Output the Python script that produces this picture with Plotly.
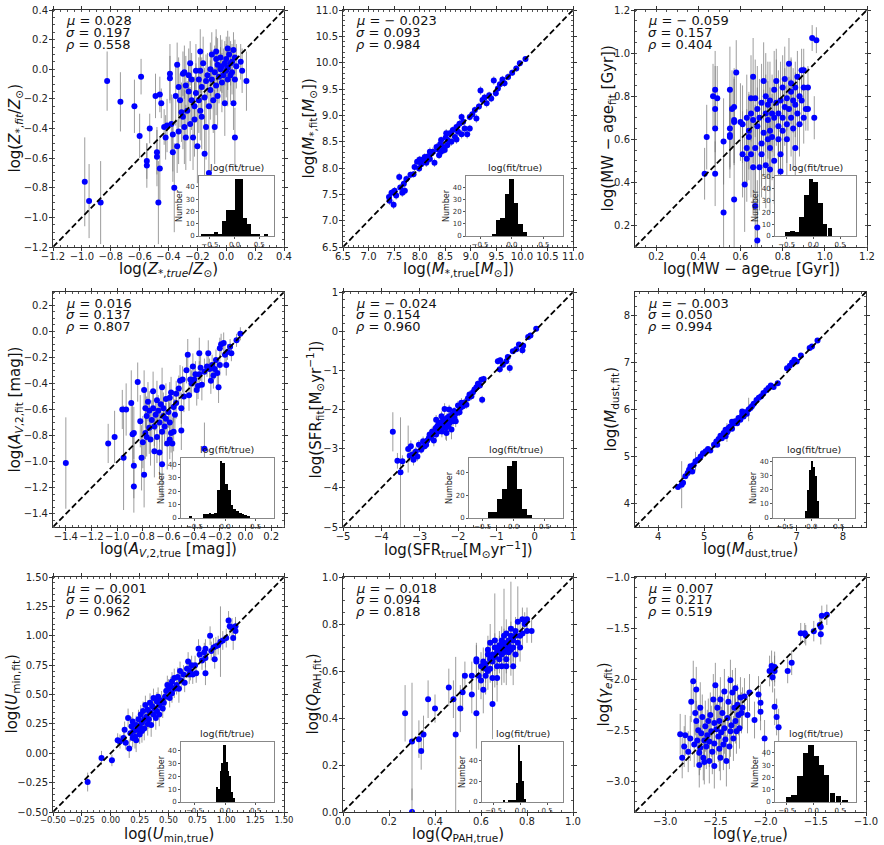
import plotly.graph_objects as go

W, H = 884, 845
FONT = "DejaVu Sans"

# (true, fit, error) triples
ZMET_PTS = [
    (-0.825, -0.08, 0.20), (-0.733, -0.22, 0.20), (-0.636, -0.25, 0.18), (-0.60, -0.45, 0.15), (-0.59, -0.05, 0.12),
    (-0.98, -0.76, 0.30), (-0.95, -0.89, 0.25), (-0.87, -0.90, 0.28), (-0.55, -0.65, 0.15), (-0.55, -0.62, 0.12),
    (-0.53, -0.40, 0.10), (-0.49, -0.18, 0.15), (-0.46, -0.17, 0.12), (-0.48, -0.59, 0.20), (-0.48, -0.56, 0.15),
    (-0.46, -0.67, 0.22), (-0.47, -0.90, 0.28), (-0.45, -0.23, 0.10), (-0.43, -0.39, 0.12), (-0.42, -0.46, 0.15),
    (-0.41, -0.38, 0.18), (-0.39, -0.06, 0.15), (-0.39, -0.03, 0.20), (-0.38, -0.37, 0.20), (-0.37, -0.44, 0.25),
    (-0.37, -0.56, 0.20), (-0.36, -0.80, 0.30), (-0.35, -0.18, 0.20), (-0.34, 0.03, 0.15), (-0.34, -0.52, 0.18),
    (-0.33, -0.12, 0.20), (-0.33, -0.42, 0.22), (-0.32, -0.21, 0.18), (-0.31, -0.29, 0.20), (-0.30, -0.03, 0.15),
    (-0.30, -0.32, 0.22), (-0.29, -0.39, 0.25), (-0.29, -0.02, 0.18), (-0.28, -0.11, 0.20), (-0.28, -0.46, 0.22),
    (-0.27, -0.28, 0.20), (-0.26, -0.04, 0.18), (-0.26, -0.15, 0.20), (-0.25, 0.04, 0.15), (-0.25, -0.37, 0.25),
    (-0.24, -0.21, 0.20), (-0.24, -0.07, 0.18), (-0.23, -0.46, 0.22), (-0.22, -0.25, 0.20), (-0.22, -0.34, 0.25),
    (-0.21, -0.01, 0.18), (-0.21, -0.16, 0.20), (-0.20, -0.52, 0.25), (-0.19, -0.07, 0.15), (-0.19, -0.21, 0.22),
    (-0.18, -0.28, 0.20), (-0.18, -0.01, 0.15), (-0.17, -0.12, 0.20), (-0.17, -0.32, 0.22), (-0.16, 0.04, 0.18),
    (-0.15, -0.19, 0.20), (-0.15, -0.57, 0.25), (-0.14, -0.08, 0.18), (-0.14, -0.39, 0.22), (-0.13, -0.04, 0.15),
    (-0.12, -0.25, 0.20), (-0.18, 0.12, 0.15), (-0.12, -0.70, 0.25), (-0.11, 0.00, 0.18), (-0.11, -0.14, 0.20),
    (-0.10, 0.10, 0.15), (-0.10, -0.07, 0.20), (-0.09, -0.21, 0.22), (-0.08, -0.02, 0.18), (-0.08, -0.39, 0.25),
    (-0.07, 0.07, 0.15), (-0.07, -0.11, 0.20), (-0.06, 0.03, 0.18), (-0.06, -0.18, 0.20), (-0.05, -0.05, 0.18),
    (-0.04, 0.00, 0.15), (-0.04, 0.08, 0.15), (-0.03, -0.09, 0.20), (-0.03, 0.02, 0.18), (-0.02, -0.04, 0.18),
    (-0.01, 0.04, 0.15), (-0.01, -0.23, 0.22), (0.00, -0.01, 0.18), (0.00, 0.07, 0.15), (0.01, -0.07, 0.18),
    (0.01, 0.01, 0.15), (0.02, 0.10, 0.12), (0.03, -0.04, 0.18), (0.03, 0.04, 0.15), (0.04, 0.05, 0.12),
    (0.04, -0.02, 0.15), (0.05, 0.13, 0.12), (0.06, 0.08, 0.12), (0.06, -0.07, 0.15), (0.06, -0.46, 0.20),
    (0.10, 0.05, 0.12), (0.07, 0.02, 0.15), (0.14, -0.08, 0.20), (0.11, -0.01, 0.15), (0.05, -0.23, 0.18),
    (0.01, 0.14, 0.12), (-0.07, 0.12, 0.15),
]
MSTAR_PTS = [
    (7.40, 7.45, 0.08), (7.41, 7.38, 0.08), (7.45, 7.53, 0.07), (7.49, 7.30, 0.08), (7.51, 7.57, 0.07),
    (7.54, 7.48, 0.08), (7.60, 7.83, 0.08), (7.62, 7.63, 0.07), (7.66, 7.53, 0.08), (7.69, 7.70, 0.07),
    (7.71, 7.57, 0.08), (7.74, 7.79, 0.07), (7.82, 7.87, 0.06), (7.88, 7.88, 0.06), (7.95, 8.12, 0.08),
    (7.99, 7.99, 0.07), (8.03, 8.07, 0.07), (8.07, 8.16, 0.08), (8.10, 8.21, 0.07), (8.13, 8.10, 0.08),
    (8.16, 8.22, 0.07), (8.20, 8.17, 0.08), (8.23, 8.28, 0.07), (8.26, 8.31, 0.08), (8.29, 8.10, 0.08),
    (8.33, 8.40, 0.07), (8.36, 8.35, 0.08), (8.38, 8.24, 0.07), (8.40, 8.45, 0.08), (8.42, 8.53, 0.07),
    (8.46, 8.40, 0.08), (8.49, 8.34, 0.07), (8.51, 8.58, 0.08), (8.54, 8.43, 0.07), (8.55, 8.53, 0.08),
    (8.59, 8.66, 0.07), (8.62, 8.50, 0.08), (8.65, 8.72, 0.07), (8.69, 8.59, 0.08), (8.72, 8.78, 0.07),
    (8.75, 8.69, 0.08), (8.78, 8.84, 0.07), (8.82, 8.64, 0.08), (8.85, 8.88, 0.07), (8.88, 8.75, 0.08),
    (8.93, 8.64, 0.08), (8.98, 8.97, 0.07), (9.03, 9.02, 0.06), (9.08, 9.10, 0.07), (9.11, 8.94, 0.08),
    (9.16, 9.17, 0.07), (9.19, 9.47, 0.08), (9.23, 9.29, 0.07), (9.27, 9.34, 0.07), (9.31, 9.23, 0.08),
    (9.36, 9.38, 0.07), (9.40, 9.32, 0.07), (9.45, 9.66, 0.08), (9.49, 9.42, 0.07), (9.53, 9.51, 0.07),
    (9.57, 9.59, 0.08), (9.62, 9.68, 0.07), (9.66, 9.61, 0.07), (9.73, 9.73, 0.07), (9.81, 9.81, 0.06),
    (9.89, 9.89, 0.06), (9.96, 9.99, 0.06), (10.07, 10.07, 0.05), (8.72, 8.54, 0.08), (8.42, 8.31, 0.07),
    (8.20, 8.31, 0.08), (8.00, 8.16, 0.07), (7.90, 8.02, 0.08), (8.98, 8.75, 0.07), (8.52, 8.66, 0.08),
    (8.82, 8.97, 0.07),
]
AGE_PTS = [
    (0.44, 0.61, 0.15), (0.43, 0.44, 0.12), (0.47, 0.80, 0.15), (0.48, 0.83, 0.18), (0.48, 0.74, 0.20),
    (0.49, 0.79, 0.15), (0.48, 0.65, 0.18), (0.48, 0.44, 0.15), (0.52, 0.59, 0.20), (0.52, 0.26, 0.25),
    (0.55, 0.83, 0.20), (0.55, 0.65, 0.18), (0.55, 0.62, 0.20), (0.55, 0.61, 0.15), (0.56, 0.74, 0.18),
    (0.57, 0.69, 0.20), (0.57, 0.75, 0.18), (0.58, 0.91, 0.15), (0.57, 0.68, 0.20), (0.57, 0.32, 0.25),
    (0.60, 0.68, 0.18), (0.61, 0.53, 0.20), (0.61, 0.67, 0.18), (0.62, 0.39, 0.22), (0.63, 0.51, 0.20),
    (0.63, 0.56, 0.18), (0.63, 0.70, 0.20), (0.64, 0.61, 0.20), (0.64, 0.64, 0.18), (0.65, 0.79, 0.20),
    (0.65, 0.72, 0.18), (0.65, 0.53, 0.20), (0.66, 0.89, 0.18), (0.66, 0.69, 0.20), (0.66, 0.47, 0.22),
    (0.67, 0.79, 0.18), (0.67, 0.56, 0.20), (0.67, 0.29, 0.25), (0.68, 0.19, 0.22), (0.68, 0.13, 0.20),
    (0.68, 0.66, 0.18), (0.68, 0.74, 0.20), (0.69, 0.47, 0.20), (0.69, 0.70, 0.18), (0.70, 0.58, 0.20),
    (0.70, 0.77, 0.18), (0.70, 0.53, 0.20), (0.71, 0.87, 0.18), (0.71, 0.63, 0.20), (0.72, 0.72, 0.18),
    (0.72, 0.80, 0.20), (0.72, 0.48, 0.20), (0.73, 0.60, 0.18), (0.73, 0.76, 0.20), (0.73, 0.69, 0.18),
    (0.74, 0.56, 0.20), (0.74, 0.78, 0.18), (0.74, 0.64, 0.20), (0.75, 0.72, 0.18), (0.75, 0.61, 0.20),
    (0.76, 0.50, 0.20), (0.76, 0.70, 0.18), (0.76, 0.83, 0.18), (0.77, 0.77, 0.20), (0.77, 0.87, 0.15),
    (0.78, 0.66, 0.20), (0.78, 0.60, 0.18), (0.78, 0.72, 0.20), (0.79, 0.78, 0.18), (0.79, 0.53, 0.20),
    (0.80, 0.84, 0.15), (0.80, 0.70, 0.18), (0.80, 0.64, 0.20), (0.81, 0.75, 0.18), (0.81, 0.88, 0.15),
    (0.82, 0.60, 0.20), (0.82, 0.79, 0.15), (0.82, 0.67, 0.18), (0.83, 0.95, 0.12), (0.83, 0.74, 0.15),
    (0.84, 0.82, 0.15), (0.84, 0.86, 0.12), (0.84, 0.70, 0.18), (0.85, 0.78, 0.15), (0.85, 0.65, 0.18),
    (0.86, 0.84, 0.12), (0.86, 0.56, 0.18), (0.86, 0.76, 0.15), (0.87, 0.89, 0.12), (0.87, 0.72, 0.15),
    (0.88, 0.80, 0.12), (0.88, 0.67, 0.15), (0.89, 0.78, 0.12), (0.89, 0.92, 0.10), (0.90, 0.84, 0.10),
    (0.90, 0.70, 0.12), (0.91, 0.74, 0.10), (0.92, 0.84, 0.10), (0.92, 0.74, 0.10), (0.90, 0.92, 0.10),
    (0.94, 1.07, 0.06), (0.96, 1.06, 0.06), (0.95, 0.70, 0.10), (0.74, 0.46, 0.20), (0.79, 0.45, 0.20),
]
AV_PTS = [
    (-1.40, -1.01, 0.35), (-1.07, -0.86, 0.15), (-1.02, -0.81, 0.20), (-0.96, -0.60, 0.15), (-0.93, -0.60, 0.20),
    (-0.95, -0.97, 0.40), (-0.89, -0.55, 0.25), (-0.88, -0.79, 0.25), (-0.87, -0.78, 0.20), (-0.87, -1.03, 0.25),
    (-0.87, -1.19, 0.20), (-0.84, -0.39, 0.15), (-0.82, -0.69, 0.20), (-0.81, -0.97, 0.25), (-0.79, -1.10, 0.25),
    (-0.80, -0.85, 0.20), (-0.79, -0.45, 0.15), (-0.78, -0.59, 0.15), (-0.78, -0.78, 0.20), (-0.77, -0.81, 0.15),
    (-0.77, -0.65, 0.15), (-0.76, -0.54, 0.15), (-0.75, -0.74, 0.20), (-0.75, -0.61, 0.15), (-0.74, -0.83, 0.20),
    (-0.73, -0.68, 0.15), (-0.72, -0.46, 0.15), (-0.72, -0.59, 0.12), (-0.71, -0.73, 0.15), (-0.71, -0.92, 0.20),
    (-0.70, -0.64, 0.12), (-0.69, -0.53, 0.15), (-0.69, -0.81, 0.20), (-0.68, -0.61, 0.12), (-0.67, -0.70, 0.15),
    (-0.67, -0.93, 0.20), (-0.66, -0.56, 0.12), (-0.65, -0.77, 0.15), (-0.65, -0.43, 0.15), (-0.65, -1.02, 0.25),
    (-0.64, -0.65, 0.12), (-0.64, -0.59, 0.12), (-0.63, -0.73, 0.15), (-0.62, -0.52, 0.12), (-0.62, -0.67, 0.12),
    (-0.61, -0.86, 0.20), (-0.60, -0.62, 0.12), (-0.59, -0.51, 0.12), (-0.59, -0.70, 0.15), (-0.58, -0.47, 0.12),
    (-0.58, -0.78, 0.15), (-0.57, -0.86, 0.20), (-0.56, -0.58, 0.12), (-0.55, -0.64, 0.12), (-0.54, -0.48, 0.10),
    (-0.54, -0.55, 0.12), (-0.52, -0.44, 0.10), (-0.51, -0.38, 0.12), (-0.50, -0.76, 0.15), (-0.50, -0.59, 0.12),
    (-0.49, -0.37, 0.10), (-0.48, -0.50, 0.12), (-0.46, -0.30, 0.10), (-0.45, -0.18, 0.12), (-0.44, -0.49, 0.12),
    (-0.43, -0.37, 0.10), (-0.42, -0.40, 0.10), (-0.41, -0.27, 0.10), (-0.40, -0.37, 0.10), (-0.39, -0.33, 0.10),
    (-0.38, -0.45, 0.12), (-0.37, -0.42, 0.10), (-0.36, -0.17, 0.12), (-0.36, -0.33, 0.10), (-0.35, -0.28, 0.10),
    (-0.34, -0.41, 0.12), (-0.32, -0.31, 0.10), (-0.32, -0.90, 0.20), (-0.30, -0.27, 0.08), (-0.29, -0.17, 0.10),
    (-0.28, -0.29, 0.08), (-0.27, -0.38, 0.10), (-0.26, -0.26, 0.08), (-0.25, -0.34, 0.10), (-0.24, -0.29, 0.08),
    (-0.23, -0.22, 0.08), (-0.22, -0.32, 0.10), (-0.21, -0.43, 0.12), (-0.20, -0.13, 0.08), (-0.20, -0.26, 0.08),
    (-0.19, -0.10, 0.08), (-0.17, -0.09, 0.08), (-0.16, -0.18, 0.08), (-0.15, -0.26, 0.08), (-0.14, -0.16, 0.06),
    (-0.12, -0.12, 0.06), (-0.11, -0.17, 0.06), (-0.07, -0.07, 0.05), (-0.04, -0.02, 0.05), (-0.59, -0.83, 0.15),
    (-0.56, -0.77, 0.15),
]
SFR_PTS = [
    (-3.70, -2.57, 0.50), (-3.58, -3.31, 0.20), (-3.50, -3.60, 1.40), (-3.45, -3.32, 0.15), (-3.30, -3.01, 0.60),
    (-3.26, -3.18, 0.15), (-3.23, -2.94, 0.15), (-3.19, -3.15, 0.12), (-3.16, -3.28, 0.15), (-3.10, -3.07, 0.12),
    (-3.06, -3.20, 0.12), (-3.02, -2.90, 0.12), (-2.96, -3.03, 0.10), (-2.91, -2.81, 0.12), (-2.87, -2.94, 0.10),
    (-2.83, -2.90, 0.10), (-2.80, -2.79, 0.12), (-2.76, -2.73, 0.10), (-2.74, -2.64, 0.12), (-2.70, -2.69, 0.10),
    (-2.67, -2.56, 0.12), (-2.63, -2.79, 0.15), (-2.61, -2.60, 0.10), (-2.58, -2.47, 0.12), (-2.57, -2.64, 0.10),
    (-2.54, -2.43, 0.12), (-2.52, -2.56, 0.10), (-2.50, -2.33, 0.12), (-2.48, -2.50, 0.10), (-2.46, -2.43, 0.12),
    (-2.43, -2.34, 0.10), (-2.42, -2.56, 0.15), (-2.39, -2.26, 0.12), (-2.37, -2.43, 0.10), (-2.35, -1.99, 0.15),
    (-2.35, -2.36, 0.10), (-2.32, -2.47, 0.30), (-2.30, -2.30, 0.10), (-2.29, -2.22, 0.12), (-2.26, -2.43, 0.15),
    (-2.23, -2.17, 0.12), (-2.22, -2.34, 0.10), (-2.19, -2.26, 0.12), (-2.17, -2.51, 0.25), (-2.15, -2.13, 0.10),
    (-2.13, -2.30, 0.12), (-2.10, -2.04, 0.10), (-2.09, -2.22, 0.12), (-2.06, -2.30, 0.15), (-2.03, -2.09, 0.10),
    (-2.00, -1.90, 0.12), (-1.96, -2.07, 0.10), (-1.94, -1.96, 0.10), (-1.91, -1.83, 0.12), (-1.87, -1.92, 0.10),
    (-1.83, -1.82, 0.10), (-1.78, -1.88, 0.10), (-1.74, -1.71, 0.10), (-1.70, -1.62, 0.10), (-1.65, -1.66, 0.10),
    (-1.61, -1.56, 0.10), (-1.57, -1.49, 0.08), (-1.52, -1.43, 0.08), (-1.48, -1.34, 0.08), (-1.43, -1.39, 0.08),
    (-1.39, -1.24, 0.08), (-1.37, -1.75, 0.10), (-1.33, -1.22, 0.08), (-0.96, -0.77, 0.08), (-0.91, -0.97, 0.10),
    (-0.90, -0.74, 0.08), (-0.83, -0.86, 0.08), (-0.74, -0.77, 0.08), (-0.65, -0.94, 0.12), (-0.70, -0.66, 0.08),
    (-0.57, -0.51, 0.06), (-0.48, -0.46, 0.06), (-0.41, -0.34, 0.06), (-0.32, -0.49, 0.10), (-0.30, -0.37, 0.06),
    (-0.17, -0.15, 0.05), (-0.11, -0.11, 0.05), (0.04, 0.06, 0.05), (-2.23, -2.00, 0.12), (-2.43, -2.17, 0.12),
    (-2.57, -2.26, 0.12), (-2.30, -2.60, 0.20),
]
MDUST_PTS = [
    (4.43, 4.35, 0.05), (4.51, 4.40, 0.50), (4.54, 4.44, 0.05), (4.59, 4.58, 0.05), (4.64, 4.65, 0.05),
    (4.67, 4.72, 0.06), (4.70, 4.79, 0.05), (4.74, 4.68, 0.05), (4.77, 4.82, 0.05), (4.81, 4.90, 0.20),
    (4.86, 4.93, 0.05), (4.92, 5.00, 0.05), (4.97, 5.07, 0.05), (5.03, 5.11, 0.05), (5.08, 5.16, 0.05),
    (5.13, 5.13, 0.05), (5.21, 5.25, 0.05), (5.26, 5.32, 0.05), (5.31, 5.37, 0.06), (5.35, 5.44, 0.05),
    (5.38, 5.39, 0.05), (5.42, 5.50, 0.05), (5.46, 5.57, 0.06), (5.49, 5.51, 0.20), (5.53, 5.61, 0.05),
    (5.56, 5.64, 0.05), (5.60, 5.59, 0.05), (5.64, 5.70, 0.05), (5.67, 5.75, 0.05), (5.71, 5.71, 0.05),
    (5.74, 5.82, 0.05), (5.78, 5.78, 0.05), (5.82, 5.89, 0.05), (5.85, 5.85, 0.05), (5.89, 5.94, 0.05),
    (5.92, 5.91, 0.05), (5.96, 6.00, 0.25), (6.00, 6.03, 0.05), (6.03, 6.07, 0.05), (6.07, 6.12, 0.05),
    (6.13, 6.20, 0.04), (6.18, 6.25, 0.04), (6.23, 6.28, 0.04), (6.28, 6.35, 0.05), (6.34, 6.41, 0.04),
    (6.39, 6.46, 0.04), (6.44, 6.51, 0.04), (6.50, 6.48, 0.04), (6.59, 6.56, 0.04), (6.79, 6.88, 0.04),
    (6.85, 6.93, 0.04), (6.90, 7.00, 0.04), (6.95, 7.06, 0.04), (7.00, 7.02, 0.04), (7.09, 7.15, 0.04),
    (7.28, 7.31, 0.03), (7.33, 7.34, 0.03), (7.45, 7.47, 0.03), (5.46, 5.43, 0.05), (5.51, 5.54, 0.05),
    (5.60, 5.74, 0.05), (5.82, 5.96, 0.05), (5.28, 5.25, 0.05),
]
UMIN_PTS = [
    (-0.20, -0.245, 0.08), (-0.08, -0.04, 0.06), (0.01, -0.06, 0.05), (0.06, 0.11, 0.06), (0.08, 0.10, 0.06),
    (0.11, 0.13, 0.06), (0.12, 0.20, 0.07), (0.13, 0.09, 0.06), (0.15, 0.30, 0.08), (0.16, 0.04, 0.08),
    (0.17, 0.17, 0.07), (0.18, 0.23, 0.08), (0.19, 0.13, 0.08), (0.19, 0.27, 0.08), (0.20, 0.19, 0.08),
    (0.21, 0.14, 0.10), (0.22, 0.24, 0.08), (0.22, 0.11, 0.10), (0.23, 0.20, 0.08), (0.24, 0.29, 0.08),
    (0.25, 0.16, 0.08), (0.25, 0.23, 0.08), (0.26, 0.33, 0.08), (0.27, 0.26, 0.08), (0.27, 0.19, 0.10),
    (0.28, 0.36, 0.08), (0.29, 0.29, 0.08), (0.29, 0.21, 0.10), (0.30, 0.41, 0.08), (0.31, 0.31, 0.08),
    (0.32, 0.25, 0.10), (0.32, 0.37, 0.08), (0.33, 0.29, 0.08), (0.34, 0.43, 0.08), (0.34, 0.35, 0.08),
    (0.35, 0.24, 0.10), (0.36, 0.40, 0.08), (0.37, 0.33, 0.08), (0.37, 0.47, 0.08), (0.38, 0.38, 0.08),
    (0.39, 0.30, 0.10), (0.40, 0.44, 0.08), (0.40, 0.36, 0.08), (0.41, 0.48, 0.08), (0.42, 0.41, 0.08),
    (0.42, 0.33, 0.10), (0.44, 0.45, 0.08), (0.45, 0.38, 0.08), (0.46, 0.43, 0.08), (0.47, 0.48, 0.08),
    (0.48, 0.53, 0.08), (0.49, 0.58, 0.08), (0.50, 0.55, 0.08), (0.51, 0.47, 0.08), (0.52, 0.57, 0.08),
    (0.53, 0.51, 0.08), (0.53, 0.61, 0.08), (0.55, 0.55, 0.08), (0.55, 0.64, 0.08), (0.57, 0.58, 0.08),
    (0.58, 0.65, 0.08), (0.59, 0.55, 0.12), (0.60, 0.70, 0.08), (0.61, 0.62, 0.08), (0.63, 0.67, 0.08),
    (0.64, 0.60, 0.08), (0.66, 0.72, 0.08), (0.67, 0.78, 0.08), (0.68, 0.67, 0.08), (0.69, 0.70, 0.08),
    (0.70, 0.75, 0.08), (0.71, 0.67, 0.08), (0.73, 0.75, 0.08), (0.74, 0.68, 0.08), (0.76, 0.89, 0.08),
    (0.77, 0.84, 0.08), (0.79, 0.79, 0.08), (0.81, 0.86, 0.08), (0.82, 0.81, 0.08), (0.82, 0.89, 0.08),
    (0.86, 1.00, 0.08), (0.87, 0.87, 0.08), (0.89, 0.90, 0.08), (0.90, 0.80, 0.08), (0.91, 0.91, 0.08),
    (0.93, 0.92, 0.08), (0.95, 0.95, 0.30), (0.97, 0.96, 0.08), (1.00, 0.98, 0.08), (1.02, 1.13, 0.08),
    (1.03, 1.08, 0.08), (1.05, 1.07, 0.08), (1.06, 0.98, 0.10), (1.08, 1.08, 0.08), (1.08, 1.04, 0.08),
    (0.82, 0.68, 0.10),
]
QPAH_PTS = [
    (0.27, 0.42, 0.12), (0.30, 0.30, 0.25), (0.33, 0.31, 0.08), (0.34, 0.26, 0.08), (0.35, 0.33, 0.08),
    (0.37, 0.48, 0.08), (0.40, 0.44, 0.06), (0.46, 0.53, 0.08), (0.48, 0.48, 0.08), (0.49, 0.33, 0.33),
    (0.51, 0.44, 0.10), (0.52, 0.51, 0.08), (0.53, 0.58, 0.06), (0.56, 0.50, 0.08), (0.56, 0.58, 0.06),
    (0.58, 0.64, 0.08), (0.58, 0.65, 0.06), (0.58, 0.42, 0.15), (0.59, 0.58, 0.06), (0.60, 0.56, 0.08),
    (0.60, 0.62, 0.06), (0.61, 0.64, 0.06), (0.61, 0.52, 0.10), (0.62, 0.61, 0.06), (0.62, 0.58, 0.08),
    (0.62, 0.63, 0.06), (0.63, 0.67, 0.06), (0.63, 0.69, 0.06), (0.63, 0.60, 0.08), (0.64, 0.65, 0.06),
    (0.64, 0.61, 0.06), (0.64, 0.72, 0.08), (0.65, 0.67, 0.06), (0.65, 0.64, 0.06), (0.65, 0.57, 0.10),
    (0.65, 0.46, 0.15), (0.66, 0.70, 0.06), (0.66, 0.66, 0.06), (0.66, 0.73, 0.20), (0.67, 0.62, 0.08),
    (0.67, 0.68, 0.06), (0.67, 0.57, 0.10), (0.68, 0.71, 0.06), (0.68, 0.65, 0.06), (0.68, 0.69, 0.06),
    (0.69, 0.73, 0.06), (0.69, 0.67, 0.06), (0.69, 0.62, 0.08), (0.70, 0.70, 0.06), (0.70, 0.75, 0.20),
    (0.70, 0.68, 0.06), (0.70, 0.72, 0.06), (0.71, 0.65, 0.06), (0.71, 0.76, 0.06), (0.71, 0.70, 0.06),
    (0.72, 0.73, 0.06), (0.72, 0.68, 0.06), (0.72, 0.71, 0.06), (0.73, 0.75, 0.06), (0.73, 0.69, 0.06),
    (0.73, 0.78, 0.20), (0.74, 0.73, 0.06), (0.74, 0.70, 0.06), (0.75, 0.75, 0.06), (0.75, 0.67, 0.06),
    (0.75, 0.77, 0.06), (0.76, 0.72, 0.06), (0.76, 0.81, 0.15), (0.77, 0.75, 0.06), (0.77, 0.70, 0.06),
    (0.78, 0.76, 0.06), (0.78, 0.82, 0.05), (0.79, 0.80, 0.05), (0.80, 0.82, 0.05), (0.80, 0.77, 0.05),
    (0.82, 0.77, 0.05), (0.71, 0.62, 0.08), (0.74, 0.62, 0.08), (0.30, 0.00, 0.10),
]
GAMMA_PTS = [
    (-2.85, -2.54, 0.20), (-2.83, -2.77, 0.20), (-2.80, -2.55, 0.20), (-2.77, -2.71, 0.20), (-2.75, -2.58, 0.22),
    (-2.74, -2.22, 0.20), (-2.72, -2.02, 0.20), (-2.71, -2.64, 0.22), (-2.70, -2.33, 0.22), (-2.69, -2.41, 0.20),
    (-2.69, -2.10, 0.22), (-2.68, -2.60, 0.22), (-2.67, -2.50, 0.25), (-2.66, -2.72, 0.22), (-2.65, -2.28, 0.25),
    (-2.65, -2.67, 0.22), (-2.64, -2.53, 0.25), (-2.63, -2.37, 0.22), (-2.62, -2.77, 0.22), (-2.61, -2.60, 0.25),
    (-2.61, -2.81, 0.22), (-2.60, -2.46, 0.25), (-2.59, -2.66, 0.22), (-2.58, -2.55, 0.25), (-2.57, -2.41, 0.22),
    (-2.56, -2.80, 0.22), (-2.56, -2.61, 0.25), (-2.55, -2.35, 0.22), (-2.54, -2.51, 0.25), (-2.53, -2.71, 0.22),
    (-2.52, -2.20, 0.25), (-2.51, -2.43, 0.22), (-2.51, -2.63, 0.25), (-2.50, -2.06, 0.22), (-2.49, -2.49, 0.25),
    (-2.48, -2.28, 0.22), (-2.47, -2.56, 0.25), (-2.46, -2.68, 0.22), (-2.46, -2.41, 0.25), (-2.45, -2.20, 0.22),
    (-2.44, -2.52, 0.25), (-2.43, -2.33, 0.22), (-2.42, -2.64, 0.25), (-2.41, -2.12, 0.22), (-2.41, -2.48, 0.25),
    (-2.40, -2.59, 0.22), (-2.39, -2.80, 0.25), (-2.38, -2.38, 0.22), (-2.37, -2.22, 0.25), (-2.36, -2.66, 0.22),
    (-2.35, -2.51, 0.25), (-2.35, -2.01, 0.20), (-2.34, -2.45, 0.22), (-2.33, -2.13, 0.22), (-2.32, -2.58, 0.22),
    (-2.31, -2.28, 0.22), (-2.30, -2.41, 0.22), (-2.30, -2.09, 0.20), (-2.29, -2.51, 0.22), (-2.28, -2.25, 0.20),
    (-2.27, -2.35, 0.20), (-2.26, -2.48, 0.20), (-2.25, -2.18, 0.20), (-2.24, -2.33, 0.20), (-2.23, -2.28, 0.20),
    (-2.21, -2.17, 0.18), (-2.18, -2.35, 0.18), (-2.16, -2.13, 0.18), (-2.11, -2.40, 0.18), (-2.07, -2.15, 0.18),
    (-2.05, -2.23, 0.18), (-2.05, -2.32, 0.18), (-2.01, -2.58, 0.18), (-1.96, -1.92, 0.15), (-1.94, -1.87, 0.15),
    (-1.93, -1.98, 0.15), (-1.91, -1.88, 0.15), (-1.91, -1.92, 0.15), (-1.91, -2.27, 0.18), (-1.89, -2.37, 0.18),
    (-1.87, -2.47, 0.18), (-1.78, -1.92, 0.12), (-1.74, -1.84, 0.12), (-1.65, -1.55, 0.10), (-1.61, -1.55, 0.10),
    (-1.60, -1.57, 0.10), (-1.52, -1.53, 0.10), (-1.46, -1.47, 0.10), (-1.45, -1.49, 0.10), (-1.45, -1.56, 0.10),
    (-1.44, -1.38, 0.10), (-1.39, -1.37, 0.10), (-2.81, -2.66, 0.20), (-2.66, -2.84, 0.22), (-2.51, -2.85, 0.22),
    (-2.45, -2.77, 0.22),
]

# log(fit/true) histograms: bin centres and counts
ZMET_HIST_X = [-0.638, -0.553, -0.468, -0.383, -0.298, -0.213, -0.128, -0.043, 0.043, 0.128, 0.213, 0.298, 0.383, 0.468, 0.553, 0.638]
ZMET_HIST_N = [1, 1, 1, 3, 2, 12, 21, 21, 46, 46, 15, 10, 1, 2, 0, 1]
MSTAR_HIST_X = [-0.285, -0.215, -0.145, -0.075, -0.005, 0.065, 0.135, 0.205]
MSTAR_HIST_N = [2, 13, 15, 35, 47, 27, 10, 3]
AGE_HIST_X = [-0.48, -0.395, -0.31, -0.22, -0.13, -0.043, 0.043, 0.13, 0.22, 0.31]
AGE_HIST_N = [3, 4, 3, 16, 35, 48, 46, 28, 10, 7]
AV_HIST_X = [-0.56, -0.335, -0.29, -0.245, -0.20, -0.155, -0.11, -0.065, -0.02, 0.025, 0.07, 0.115, 0.16, 0.205, 0.25, 0.295, 0.34, 0.385]
AV_HIST_N = [1, 3, 3, 4, 3, 4, 21, 42, 41, 25, 21, 10, 7, 5, 4, 3, 2, 1]
SFR_HIST_X = [-0.38, -0.30, -0.22, -0.14, -0.06, 0.02, 0.10, 0.18, 0.26]
SFR_HIST_N = [5, 5, 17, 26, 46, 50, 26, 8, 3]
MDUST_HIST_X = [-0.10, -0.065, -0.03, 0.005, 0.04, 0.075, 0.11]
MDUST_HIST_N = [5, 20, 34, 40, 36, 30, 12]
UMIN_HIST_X = [-0.125, -0.095, -0.065, -0.035, -0.005, 0.025, 0.055, 0.085, 0.115, 0.145]
UMIN_HIST_N = [12, 10, 24, 30, 44, 31, 24, 20, 8, 3]
QPAH_HIST_X = [-0.30, -0.20, -0.165, -0.13, -0.095, -0.06, -0.025, 0.01, 0.045, 0.08]
QPAH_HIST_N = [1, 1, 1, 2, 2, 18, 55, 40, 20, 3]
GAMMA_HIST_X = [-0.47, -0.36, -0.25, -0.145, -0.05, 0.05, 0.145, 0.25, 0.36, 0.475, 0.59]
GAMMA_HIST_N = [4, 6, 21, 40, 46, 37, 30, 22, 7, 5, 2]

# (mu, sigma, rho) printed in each panel
STATS = [
    ("0.028", "0.197", "0.558"), ("− 0.023", "0.093", "0.984"), ("− 0.059", "0.157", "0.404"),
    ("0.016", "0.137", "0.807"), ("− 0.024", "0.154", "0.960"), ("− 0.003", "0.050", "0.994"),
    ("− 0.001", "0.062", "0.962"), ("− 0.018", "0.094", "0.818"), ("0.007", "0.217", "0.519"),
]

PANELS = [
    dict(pts=ZMET_PTS, hx=ZMET_HIST_X, hn=ZMET_HIST_N, hw=0.085, lim=[-1.2, 0.4], dtick=0.2, fmt=".1f", hdt=10,
         xt="log(<i>Z</i><sub>*,<i>true</i></sub>/<i>Z</i><sub>⊙</sub>)",
         yt="log(<i>Z</i><sub>*,<i>fit</i></sub>/<i>Z</i><sub>⊙</sub>)",
         box=(53, 284, 10, 247), ins=(199, 274, 176, 236), yoff=38, xfs=10),
    dict(pts=MSTAR_PTS, hx=MSTAR_HIST_X, hn=MSTAR_HIST_N, hw=0.07, lim=[6.5, 11.0], dtick=0.5, fmt=".1f", hdt=10,
         xt="log(<i>M</i><sub>*,true</sub>[<i>M</i><sub>⊙</sub>])",
         yt="log(<i>M</i><sub>*,fit</sub>[<i>M</i><sub>⊙</sub>])",
         box=(343, 573, 10, 247), ins=(466, 563, 176, 236), yoff=34, xfs=10),
    dict(pts=AGE_PTS, hx=AGE_HIST_X, hn=AGE_HIST_N, hw=0.087, lim=[0.1, 1.2], dtick=0.2, fmt=".1f", hdt=10,
         xt="log(MW − age<sub>true</sub> [Gyr])",
         yt="log(MW − age<sub>fit</sub> [Gyr])",
         box=(635, 867, 10, 247), ins=(775, 856, 176, 236), yoff=27, xfs=10),
    dict(pts=AV_PTS, hx=AV_HIST_X, hn=AV_HIST_N, hw=0.045, lim=[-1.5, 0.3], dtick=0.2, fmt=".1f", hdt=10,
         xt="log(<i>A</i><sub><i>V</i>,2,true</sub> [mag])",
         yt="log(<i>A</i><sub><i>V</i>,2,fit</sub> [mag])",
         box=(53, 284, 292, 527), ins=(181, 274, 458, 518), yoff=38, xfs=10),
    dict(pts=SFR_PTS, hx=SFR_HIST_X, hn=SFR_HIST_N, hw=0.08, lim=[-5, 1], dtick=1, fmt="d", hdt=20,
         xt="log(SFR<sub>true</sub>[M<sub>⊙</sub>yr<sup>−1</sup>])",
         yt="log(SFR<sub>fit</sub>[M<sub>⊙</sub>yr<sup>−1</sup>])",
         box=(343, 573, 292, 527), ins=(469, 563, 458, 518), yoff=28, xfs=10),
    dict(pts=MDUST_PTS, hx=MDUST_HIST_X, hn=MDUST_HIST_N, hw=0.035, lim=[3.5, 8.5], dtick=1, fmt="d", hdt=10,
         xt="log(<i>M</i><sub>dust,true</sub>)",
         yt="log(<i>M</i><sub>dust,fit</sub>)",
         box=(635, 866, 292, 527), ins=(773, 855, 458, 518), yoff=24, xfs=10),
    dict(pts=UMIN_PTS, hx=UMIN_HIST_X, hn=UMIN_HIST_N, hw=0.03, lim=[-0.5, 1.5], dtick=0.25, fmt=".2f", hdt=10,
         xt="log(<i>U</i><sub>min,true</sub>)",
         yt="log(<i>U</i><sub>min,fit</sub>)",
         box=(53, 284, 577, 812), ins=(181, 274, 742, 802), yoff=41, xfs=8.5),
    dict(pts=QPAH_PTS, hx=QPAH_HIST_X, hn=QPAH_HIST_N, hw=0.035, lim=[0.0, 1.0], dtick=0.2, fmt=".1f", hdt=20,
         xt="log(<i>Q</i><sub>PAH,true</sub>)",
         yt="log(<i>Q</i><sub>PAH,fit</sub>)",
         box=(343, 573, 577, 812), ins=(482, 563, 742, 802), yoff=30, xfs=10),
    dict(pts=GAMMA_PTS, hx=GAMMA_HIST_X, hn=GAMMA_HIST_N, hw=0.105, lim=[-3.3, -1.0], dtick=0.5, fmt=".1f", hdt=10,
         xt="log(<i>γ</i><sub><i>e</i>,true</sub>)",
         yt="log(<i>γ</i><sub><i>e</i>,fit</sub>)",
         box=(635, 866, 577, 812), ins=(775, 856, 742, 802), yoff=31, xfs=10),
]


def xdom(x0, x1):
    return [x0 / W, x1 / W]


def ydom(top, bottom):
    return [1 - bottom / H, 1 - top / H]


def ax_name(n, letter):
    return letter if n == 1 else f"{letter}{n}"


fig = go.Figure()
layout = {}
annotations = []
title_font = {"size": 15, "family": FONT, "color": "#111"}

for i, p in enumerate(PANELS):
    nm, ni = 2 * i + 1, 2 * i + 2
    xm, ym = ax_name(nm, "x"), ax_name(nm, "y")
    xi, yi = ax_name(ni, "x"), ax_name(ni, "y")
    tx, ty, te = zip(*p["pts"])

    fig.add_trace(go.Scatter(
        x=tx, y=ty, mode="markers", xaxis=xm, yaxis=ym,
        marker={"color": "#0000ff", "size": 6},
        error_y={"type": "data", "array": te, "color": "rgba(115,115,115,0.7)", "thickness": 1, "width": 0},
        showlegend=False, hoverinfo="skip",
    ))
    fig.add_trace(go.Scatter(
        x=p["lim"], y=p["lim"], mode="lines", xaxis=xm, yaxis=ym,
        line={"color": "black", "width": 1.8, "dash": "6px,3px"}, showlegend=False, hoverinfo="skip",
    ))
    fig.add_trace(go.Bar(
        x=p["hx"], y=p["hn"], width=p["hw"], xaxis=xi, yaxis=yi,
        marker={"color": "black", "line": {"width": 0}}, showlegend=False, hoverinfo="skip",
    ))

    x0, x1, top, bottom = p["box"]
    w, h = x1 - x0, bottom - top
    common = dict(
        range=p["lim"], tick0=0, dtick=p["dtick"], tickformat=p["fmt"], ticks="outside", ticklen=3,
        tickcolor="#333", tickangle=0, mirror="allticks", showline=True, linecolor="#333", linewidth=1,
        showgrid=False, zeroline=False, automargin=False,
        minor={"ticks": "inside", "ticklen": 2, "tickcolor": "#555", "showgrid": False},
    )
    layout[ax_name(nm, "xaxis")] = dict(
        common, domain=xdom(x0, x1), anchor=ym, ticklabelstandoff=-3,
        tickfont={"size": p["xfs"], "color": "#222", "family": FONT},
    )
    layout[ax_name(nm, "yaxis")] = dict(
        common, domain=ydom(top, bottom), anchor=xm, ticklabelstandoff=-1,
        tickfont={"size": 10, "color": "#222", "family": FONT},
    )
    annotations.append(dict(
        text=p["xt"], xref=f"{xm} domain", yref=f"{ym} domain", x=0.5, y=-22 / h,
        xanchor="center", yanchor="middle", showarrow=False, font=title_font,
    ))
    annotations.append(dict(
        text=p["yt"], xref=f"{xm} domain", yref=f"{ym} domain", x=-p["yoff"] / w, y=0.5,
        xanchor="center", yanchor="middle", textangle=-90, showarrow=False, font=title_font,
    ))

    ix0, ix1, itop, ibottom = p["ins"]
    inset_common = dict(
        ticks="outside", ticklen=2, tickcolor="#555", mirror=True, showline=True, linecolor="#888",
        linewidth=1, showgrid=False, zeroline=False, automargin=False, tickangle=0,
        tickfont={"size": 7, "color": "#333", "family": FONT},
    )
    layout[ax_name(ni, "xaxis")] = dict(
        inset_common, domain=xdom(ix0, ix1), anchor=yi, range=[-0.72, 0.8],
        tick0=0, dtick=0.5, tickformat=".1f",
    )
    layout[ax_name(ni, "yaxis")] = dict(
        inset_common, domain=ydom(itop, ibottom), anchor=xi, range=[0, max(p["hn"]) * 1.06],
        tick0=0, dtick=p["hdt"],
        title={"text": "Number", "font": {"size": 8, "family": FONT, "color": "#222"}, "standoff": 1},
    )

    annotations.append(dict(
        text="log(fit/true)", xref="paper", yref="paper",
        x=(ix0 + ix1) / 2 / W, y=1 - (itop - 1) / H, xanchor="center", yanchor="bottom",
        showarrow=False, font={"size": 9.5, "family": FONT, "color": "#222"},
    ))

    mu, sig, rho = STATS[i]
    for k, txt in enumerate([f"<i>μ</i> = {mu}", f"<i>σ</i> = {sig}", f"<i>ρ</i> = {rho}"]):
        annotations.append(dict(
            text=txt, xref=f"{xm} domain", yref=f"{ym} domain",
            x=11 / w, y=1 - (11 + 11.7 * k) / h, xanchor="left", yanchor="middle",
            showarrow=False, font={"size": 13, "family": FONT, "color": "#111"},
        ))

fig.update_layout(
    layout,
    width=W, height=H, margin={"l": 0, "r": 0, "t": 0, "b": 0},
    paper_bgcolor="white", plot_bgcolor="white",
    bargap=0, showlegend=False, annotations=annotations,
    font={"family": FONT},
)

# the page body has a default 8px margin; drop it so the figure sits at the window origin
fig.write_html(
    "out.html",
    config={"displayModeBar": False},
    post_script="document.body.style.margin='0px';",
)
